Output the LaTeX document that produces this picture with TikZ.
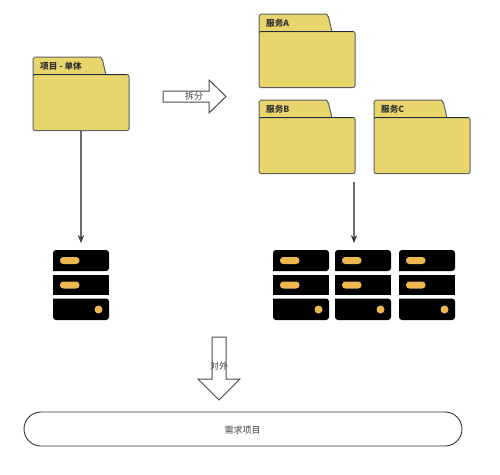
\documentclass[tikz,border=0pt]{standalone}
\usepackage{fontspec}
\newfontfamily\cjk{Noto Sans CJK SC}
\usetikzlibrary{arrows.meta}

\definecolor{folderfill}{HTML}{E8D56C}
\definecolor{folderline}{HTML}{5F6062}
\definecolor{foldertop}{HTML}{1F2A3C}
\definecolor{rackled}{HTML}{EDB94F}
\definecolor{arrowline}{HTML}{6A6D70}

\tikzset{
    folderbody/.style={draw=folderline, fill=folderfill, line width=1pt, rounded corners=2pt,
        minimum width=96pt, minimum height=56pt, inner sep=0pt, outer sep=0pt},
    foldertab/.style={draw=folderline, fill=folderfill, line width=1pt},
    foldertext/.style={font=\cjk\bfseries\fontsize{8.6}{10}\selectfont, text=black!80, anchor=west, inner sep=0pt},
    blocktext/.style={font=\cjk\fontsize{9}{11}\selectfont, text=black!75, inner sep=0pt},
    blockarrow/.style={draw=black!70, fill=white, line width=1pt, line join=miter},
    rackbox/.style={minimum width=56pt, minimum height=70pt, inner sep=0pt, outer sep=0pt},
    rackled/.style={fill=rackled},
    linkarrow/.style={draw=arrowline, line width=1.1pt, -{Stealth[length=8pt, width=6.5pt, color=black!75]}}
}

\begin{document}
\begin{tikzpicture}[x=1pt, y=-1pt]

    % Page size of the reference
    \useasboundingbox (0,0) rectangle (500,474);

    % Folders: name / left / tab top / label
    \foreach \nm/\px/\py/\txt in {folderMono/33/57/项目 - 单体, folderA/259/14/服务A, folderB/259/100/服务B, folderC/374/100/服务C} {
        \path[foldertab] (\px,\py+18) -- (\px,\py+2) to[out=-90, in=180] (\px+2,\py)
            -- (\px+67,\py) to[out=0, in=-100] (\px+69.5,\py+3) -- (\px+73,\py+18) -- cycle;
        \node[folderbody] (\nm) at (\px+48,\py+45.5) {};
        \draw[foldertop, line width=0.9pt] (\px+0.5,\py+17.5) -- (\px+94,\py+17.5);
        \node[foldertext] (\nm label) at (\px+7,\py+9.5) {\txt};
    }

    % Server racks: name / left
    \foreach \nm/\px in {rackMono/53, rackA/273, rackB/335, rackC/399} {
        \node[rackbox] (\nm) at (\px+28,285) {};
        \fill[rounded corners=3pt] (\px,271) -- (\px,250) -- (\px+56,250) -- (\px+56,271) [sharp corners] -- cycle;
        \fill (\px,274.5) rectangle (\px+56,295);
        \fill[rounded corners=3pt] (\px,298.5) -- (\px,320) -- (\px+56,320) -- (\px+56,298.5) [sharp corners] -- cycle;
        \fill[rackled, rounded corners=3.3pt] (\px+7,257) rectangle (\px+26.5,264);
        \fill[rackled, rounded corners=3.3pt] (\px+7,281.5) rectangle (\px+26.5,288.5);
        \fill[rackled] (\px+45.5,309.5) circle (4pt);
    }

    % Links down to the racks
    \coordinate (splitEnd) at (354,182);
    \draw[linkarrow, shorten >=7pt] (folderMono.south) -- (rackMono.north);
    \draw[linkarrow, shorten >=7pt] (splitEnd) -- (354,250);

    % Block arrow to the right
    \draw[blockarrow] (163,91) -- (209,91) -- (209,80) -- (226,96.5) -- (209,113) -- (209,102) -- (163,102) -- cycle;
    \node[blocktext] (splitlabel) at (194,96.5) {拆分};

    % Block arrow downwards
    \draw[blockarrow] (212,337) -- (226,337) -- (226,379) -- (240,379) -- (219,400) -- (198,379) -- (212,379) -- cycle;
    \node[blocktext] (outlabel) at (219,366) {对外};

    % Bottom bar
    \node[draw=black!80, fill=white, line width=0.9pt, rounded corners=17pt, minimum width=438pt, minimum height=34pt,
        inner sep=0pt] (demand) at (243,429) {};
    \node[blocktext] (demandlabel) at (242.5,430) {需求项目};

\end{tikzpicture}
\end{document}
